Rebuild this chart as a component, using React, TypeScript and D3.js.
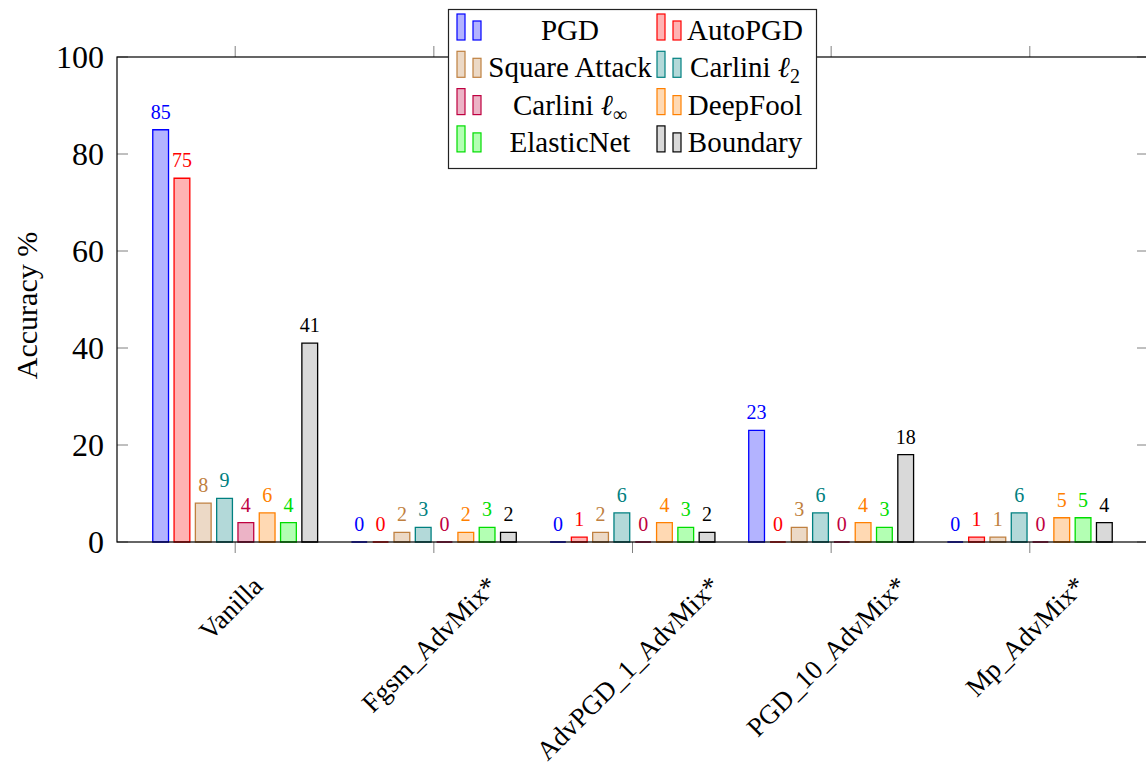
import React, { useEffect, useRef } from 'react';
import * as d3 from 'd3';

const CATEGORIES = ["Vanilla", "Fgsm_AdvMix*", "AdvPGD_1_AdvMix*", "PGD_10_AdvMix*", "Mp_AdvMix*"];

const PGD = [85, 0, 0, 23, 0];
const AUTO_PGD = [75, 0, 1, 0, 1];
const SQUARE_ATTACK = [8, 2, 2, 3, 1];
const CARLINI_L2 = [9, 3, 6, 6, 6];
const CARLINI_LINF = [4, 0, 0, 0, 0];
const DEEPFOOL = [6, 2, 4, 4, 5];
const ELASTICNET = [4, 3, 3, 3, 5];
const BOUNDARY = [41, 2, 2, 18, 4];

const Y_TICKS = [0, 20, 40, 60, 80, 100];

// name, italic symbol, subscript, stroke, fill
const SERIES = [
    { name: "PGD", sym: "", sub: "", values: PGD, stroke: "#0000ff", fill: "#b3b3ff" },
    { name: "AutoPGD", sym: "", sub: "", values: AUTO_PGD, stroke: "#ff0000", fill: "#ffb3b3" },
    { name: "Square Attack", sym: "", sub: "", values: SQUARE_ATTACK, stroke: "#bf8040", fill: "#ecd9c6" },
    { name: "Carlini ", sym: "ℓ", sub: "2", values: CARLINI_L2, stroke: "#008080", fill: "#b3d9d9" },
    { name: "Carlini ", sym: "ℓ", sub: "∞", values: CARLINI_LINF, stroke: "#bf0040", fill: "#ecb3c6" },
    { name: "DeepFool", sym: "", sub: "", values: DEEPFOOL, stroke: "#ff8000", fill: "#ffd9b3" },
    { name: "ElasticNet", sym: "", sub: "", values: ELASTICNET, stroke: "#00dd00", fill: "#b3ffb3" },
    { name: "Boundary", sym: "", sub: "", values: BOUNDARY, stroke: "#000000", fill: "#d9d9d9" },
];

const FONT = "'Liberation Serif', 'Times New Roman', serif";

function App() {
    const svgRef = useRef(null);
    const W = 1146, H = 772;
    const plot = { left: 117, right: 1148, top: 57, bottom: 542 };

    useEffect(() => {
        const svg = d3.select(svgRef.current);
        svg.selectAll("*").remove();

        const x0 = d3.scalePoint()
            .domain(CATEGORIES)
            .range([plot.left, plot.right])
            .padding(0.595);

        const x1 = d3.scaleBand()
            .domain(SERIES.map((s, i) => String(i)))
            .range([-85.2, 85.2])
            .paddingInner(0.26)
            .paddingOuter(0.13);

        const y = d3.scaleLinear()
            .domain([0, 100])
            .range([plot.bottom, plot.top]);

        // ticks
        const tickColor = "#808080";
        svg.append("g")
            .selectAll("line")
            .data(CATEGORIES)
            .join("line")
            .attr("x1", d => x0(d)).attr("x2", d => x0(d))
            .attr("y1", plot.bottom).attr("y2", plot.bottom + 11)
            .attr("stroke", tickColor);
        svg.append("g")
            .selectAll("line")
            .data(CATEGORIES)
            .join("line")
            .attr("x1", d => x0(d)).attr("x2", d => x0(d))
            .attr("y1", plot.top).attr("y2", plot.top - 11)
            .attr("stroke", tickColor);
        svg.append("g")
            .selectAll("line")
            .data(Y_TICKS)
            .join("line")
            .attr("x1", plot.left).attr("x2", plot.left + 11)
            .attr("y1", d => y(d)).attr("y2", d => y(d))
            .attr("stroke", tickColor);
        svg.append("g")
            .selectAll("line")
            .data(Y_TICKS)
            .join("line")
            .attr("x1", plot.right - 11).attr("x2", plot.right)
            .attr("y1", d => y(d)).attr("y2", d => y(d))
            .attr("stroke", tickColor);

        // bars (paths so that zero-height bars still show their outline)
        SERIES.forEach((s, si) => {
            const g = svg.append("g");
            g.selectAll("path")
                .data(s.values)
                .join("path")
                .attr("d", (d, i) => {
                    const bx = x0(CATEGORIES[i]) + x1(String(si));
                    const p = d3.path();
                    p.rect(bx, y(d), x1.bandwidth(), y(0) - y(d));
                    return p.toString();
                })
                .attr("fill", s.fill)
                .attr("stroke", s.stroke)
                .attr("stroke-width", 1.3);
            g.selectAll("text")
                .data(s.values)
                .join("text")
                .attr("x", (d, i) => x0(CATEGORIES[i]) + x1(String(si)) + x1.bandwidth() / 2)
                .attr("y", d => y(d) - 11)
                .attr("text-anchor", "middle")
                .attr("fill", s.stroke)
                .style("font-family", FONT)
                .style("font-size", "20px")
                .text(d => d);
        });

        // frame
        svg.append("rect")
            .attr("x", plot.left).attr("y", plot.top)
            .attr("width", plot.right - plot.left)
            .attr("height", plot.bottom - plot.top)
            .attr("fill", "none")
            .attr("stroke", "#000")
            .attr("stroke-width", 1.2);

        // y tick labels
        svg.append("g")
            .selectAll("text")
            .data(Y_TICKS)
            .join("text")
            .attr("x", plot.left - 13)
            .attr("y", d => y(d))
            .attr("dy", "0.35em")
            .attr("text-anchor", "end")
            .style("font-family", FONT)
            .style("font-size", "32px")
            .text(d => d);

        // x tick labels, rotated
        const xl = svg.append("g")
            .selectAll("text")
            .data(CATEGORIES)
            .join("text")
            .attr("text-anchor", "middle")
            .style("font-family", FONT)
            .style("font-size", "27px")
            .text(d => d);
        xl.each(function (d) {
            const L = this.getComputedTextLength();
            const cx = x0(d) + 2;
            const cy = 575 + Math.SQRT1_2 * (L / 2 + 18);
            d3.select(this).attr("transform", `translate(${cx},${cy}) rotate(-45)`);
        });

        // y label
        svg.append("text")
            .attr("transform", `translate(37, ${(plot.top + plot.bottom) / 2 + 6}) rotate(-90)`)
            .attr("text-anchor", "middle")
            .style("font-family", FONT)
            .style("font-size", "30px")
            .text("Accuracy %");

        // legend
        const legend = svg.append("g");
        legend.append("rect")
            .attr("x", 448.5).attr("y", 9.5)
            .attr("width", 368).attr("height", 159)
            .attr("fill", "#fff")
            .attr("stroke", "#222")
            .attr("stroke-width", 1.2);

        const colIcon = [457, 657];
        const colText = [570, 745];
        SERIES.forEach((s, i) => {
            const col = i % 2, row = Math.floor(i / 2);
            const base = 40 + row * 37.3;
            const item = legend.append("g");
            item.append("rect")
                .attr("x", colIcon[col]).attr("y", base - 26)
                .attr("width", 8).attr("height", 26)
                .attr("fill", s.fill).attr("stroke", s.stroke).attr("stroke-width", 1.2);
            item.append("rect")
                .attr("x", colIcon[col] + 16).attr("y", base - 19)
                .attr("width", 8).attr("height", 19)
                .attr("fill", s.fill).attr("stroke", s.stroke).attr("stroke-width", 1.2);
            const t = item.append("text")
                .attr("x", colText[col])
                .attr("y", base)
                .attr("text-anchor", "middle")
                .style("font-family", FONT)
                .style("font-size", "29px");
            t.append("tspan").text(s.name);
            if (s.sym) {
                t.append("tspan").style("font-style", "italic").text(s.sym);
                t.append("tspan").attr("dy", 6).style("font-size", "20px").text(s.sub);
            }
        });
    }, []);

    return (
        <svg
            ref={svgRef}
            width={W}
            height={H}
            style={{ position: "absolute", left: 0, top: 0, background: "#fff" }}
        />
    );
}

export default App;
